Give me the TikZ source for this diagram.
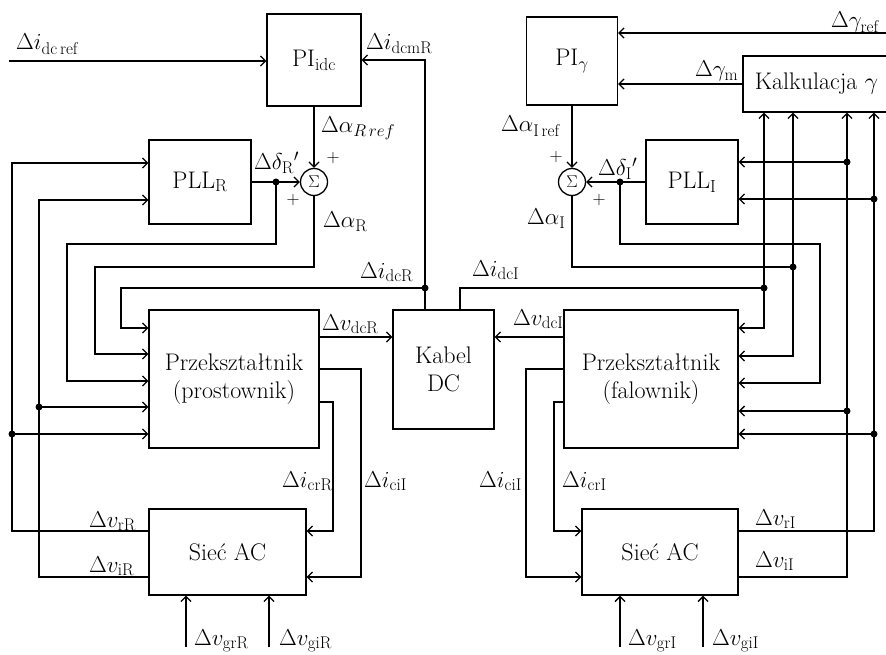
\RequirePackage{fix-cm}
\documentclass[tikz,border=0pt]{standalone}
\usepackage{fontspec}
\usetikzlibrary{arrows.meta}
\DeclareMathSizes{23}{23}{17}{12}
\DeclareMathSizes{24}{24}{17.5}{12}
\tikzset{
  blk/.style={draw, line width=1.3pt, inner sep=0pt, align=center, font=\fontsize{24}{28}\selectfont},
  sumc/.style={draw, circle, line width=1.3pt, inner sep=0pt, minimum size=27pt, font=\fontsize{17}{20}\selectfont},
  arr/.style={-{Straight Barb[length=5pt,width=10pt,line width=1.3pt]}},
  wire/.style={line width=1.3pt},
  lab/.style={anchor=base west, inner sep=0pt, font=\fontsize{23}{27}\selectfont},
  pl/.style={inner sep=0pt, font=\fontsize{18}{20}\selectfont},
  jdot/.style={circle, fill, inner sep=0pt, minimum size=7pt}
}
\begin{document}
\begin{tikzpicture}[x=1pt,y=-1pt]
\useasboundingbox (0,0) rectangle (886,655);
\begin{scope}[wire]
% blocks
\node[blk, minimum width=94pt, minimum height=92pt] (piR) at (314,60) {$\mathrm{PI}_{\mathrm{idc}}$};
\node[blk, minimum width=102pt, minimum height=84pt] (pllR) at (200,182) {$\mathrm{PLL}_{\mathrm{R}}$};
\node[sumc] (sumR) at (314,182) {$\Sigma$};
\node[blk, minimum width=170pt, minimum height=138pt] (convR) at (234,379) {Przekształtnik\\(prostownik)};
\node[blk, minimum width=157pt, minimum height=86pt] (acR) at (227.5,552) {Sieć AC};
\node[blk, minimum width=101pt, minimum height=119pt] (cable) at (443.5,369.5) {Kabel\\DC};
\node[blk, minimum width=91pt, minimum height=88pt] (piI) at (572,61) {$\mathrm{PI}_{\gamma}$};
\node[blk, minimum width=147pt, minimum height=56pt] (kalk) at (816.5,84) {Kalkulacja $\gamma$};
\node[sumc] (sumI) at (572,182) {$\Sigma$};
\node[blk, minimum width=92pt, minimum height=84pt] (pllI) at (692,182) {$\mathrm{PLL}_{\mathrm{I}}$};
\node[blk, minimum width=174pt, minimum height=138pt] (convI) at (651,379) {Przekształtnik\\(falownik)};
\node[blk, minimum width=156pt, minimum height=86pt] (acI) at (660,552) {Sieć AC};

% junctions
\coordinate (irefin) at (9,61);
\coordinate (dR) at (425,288);
\coordinate (dpR) at (276,182);
\coordinate (dvrR) at (12,434);
\coordinate (dviR) at (39,407);
\coordinate (grefin) at (890,33);
\coordinate (dpI) at (620,182);
\coordinate (dsI) at (793,267);
\coordinate (didc) at (764,288);
\coordinate (dviA) at (847,162);
\coordinate (dviB) at (847,411);
\coordinate (dvrA) at (874,199);
\coordinate (dvrB) at (874,434);
\coordinate (grR) at (186,647);
\coordinate (giR) at (269,647);
\coordinate (grI) at (620,647);
\coordinate (giI) at (703,647);

% left side connectors
\draw[arr] (irefin) -- (piR.west |- irefin);
\draw[arr] (cable.north -| dR) -- (dR) |- (piR.east);
\draw[arr] (piR.south) -- (sumR.north);
\draw[arr] (pllR.east) -- (sumR.west);
\draw[arr] (dpR) |- (67,244) |- (convR.west |- 0,381);
\draw[arr] (sumR.south) |- (95,267) |- (convR.west |- 0,354);
\draw[arr] (dR) -| (121,328) -- (convR.west |- 0,328);
\draw[arr] (acR.west |- 0,531) -| (12,163) -- (pllR.west |- 0,163);
\draw[arr] (dvrR) -- (convR.west |- dvrR);
\draw[arr] (acR.west |- 0,577) -| (39,200) -- (pllR.west |- 0,200);
\draw[arr] (dviR) -- (convR.west |- dviR);
\draw[arr] (convR.east |- 0,337) -- (cable.west |- 0,337);
\draw[arr] (convR.east |- 0,369) -| (361,577) -- (acR.east |- 0,577);
\draw[arr] (convR.east |- 0,402) -| (333,531) -- (acR.east |- 0,531);
\draw[arr] (grR) -- (acR.south -| grR);
\draw[arr] (giR) -- (acR.south -| giR);

% right side connectors
\draw[arr] (grefin) -- (piI.east |- grefin);
\draw[arr] (kalk.west) -- (piI.east |- kalk.west);
\draw[arr] (piI.south) -- (sumI.north);
\draw[arr] (pllI.west) -- (sumI.east);
\draw[arr] (dpI) |- (820,244) |- (convI.east |- 0,383);
\draw[arr] (sumI.south) |- (dsI) |- (convI.east |- 0,356);
\draw[arr] (dsI) -- (kalk.south -| dsI);
\draw[arr] (cable.north -| 460,0) |- (didc) |- (convI.east |- 0,328);
\draw[arr] (didc) -- (kalk.south -| didc);
\draw[arr] (acI.east |- 0,577) -| (kalk.south -| dviA);
\draw[arr] (dviA) -- (pllI.east |- dviA);
\draw[arr] (dviB) -- (convI.east |- dviB);
\draw[arr] (acI.east |- 0,531) -| (kalk.south -| dvrA);
\draw[arr] (dvrA) -- (pllI.east |- dvrA);
\draw[arr] (dvrB) -- (convI.east |- dvrB);
\draw[arr] (convI.west |- 0,337) -- (cable.east |- 0,337);
\draw[arr] (convI.west |- 0,369) -| (526,577) -- (acI.west |- 0,577);
\draw[arr] (convI.west |- 0,402) -| (554,531) -- (acI.west |- 0,531);
\draw[arr] (grI) -- (acI.south -| grI);
\draw[arr] (giI) -- (acI.south -| giI);
\end{scope}

% dots
\foreach \p in {dR,dpR,dvrR,dviR,dpI,dsI,didc,dviA,dviB,dvrA,dvrB}
  \node[jdot] at (\p) {};

% labels
\node[lab] at (16,50) {$\Delta i_{\mathrm{dc\,ref}}$};
\node[lab] at (366,50) {$\Delta i_{\mathrm{dcmR}}$};
\node[lab] at (321,133) {$\Delta\alpha_{R\,ref}$};
\node[pl] at (333,158) {$+$};
\node[pl] at (293,200) {$+$};
\node[lab] at (254,170) {$\Delta\delta_{\mathrm{R}}{}'$};
\node[lab] at (323,228) {$\Delta\alpha_{\mathrm{R}}$};
\node[lab] at (360,278) {$\Delta i_{\mathrm{dcR}}$};
\node[lab] at (322,330) {$\Delta v_{\mathrm{dcR}}$};
\node[lab] at (282,487) {$\Delta i_{\mathrm{crR}}$};
\node[lab] at (364,487) {$\Delta i_{\mathrm{ciI}}$};
\node[lab] at (89,527) {$\Delta v_{\mathrm{rR}}$};
\node[lab] at (89,572) {$\Delta v_{\mathrm{iR}}$};
\node[lab] at (194,645) {$\Delta v_{\mathrm{grR}}$};
\node[lab] at (279,645) {$\Delta v_{\mathrm{giR}}$};

\node[lab] at (831,28) {$\Delta\gamma_{\mathrm{ref}}$};
\node[lab] at (695,77) {$\Delta\gamma_{\mathrm{m}}$};
\node[lab] at (501,132) {$\Delta\alpha_{\mathrm{I\,ref}}$};
\node[pl] at (556,157) {$+$};
\node[pl] at (599,200) {$+$};
\node[lab] at (598,176) {$\Delta\delta_{\mathrm{I}}{}'$};
\node[lab] at (527,225) {$\Delta\alpha_{\mathrm{I}}$};
\node[lab] at (472,276) {$\Delta i_{\mathrm{dcI}}$};
\node[lab] at (513,325) {$\Delta v_{\mathrm{dcI}}$};
\node[lab] at (479,487) {$\Delta i_{\mathrm{ciI}}$};
\node[lab] at (562,487) {$\Delta i_{\mathrm{crI}}$};
\node[lab] at (755,525) {$\Delta v_{\mathrm{rI}}$};
\node[lab] at (755,567) {$\Delta v_{\mathrm{iI}}$};
\node[lab] at (628,645) {$\Delta v_{\mathrm{grI}}$};
\node[lab] at (712,645) {$\Delta v_{\mathrm{giI}}$};
\end{tikzpicture}
\end{document}
